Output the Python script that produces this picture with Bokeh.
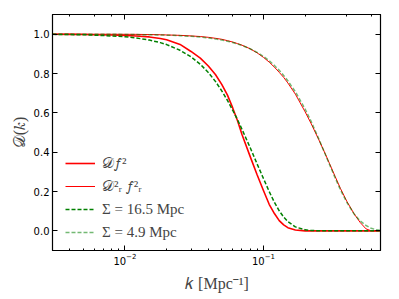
from bokeh.plotting import figure
from bokeh.models import (LogAxis, LinearAxis, FixedTicker, Legend, LegendItem,
                          PrintfTickFormatter, Range1d, CustomJSTickFormatter)
from bokeh.embed import file_html
from bokeh.resources import INLINE

# ---- data ----
k = [0.003, 0.004, 0.005, 0.006, 0.008, 0.01, 0.012, 0.015, 0.018, 0.02,
     0.025, 0.03, 0.035, 0.04, 0.045, 0.05, 0.055, 0.06, 0.065, 0.07,
     0.08, 0.09, 0.1, 0.11, 0.12, 0.13, 0.14, 0.15, 0.17, 0.2,
     0.22, 0.25, 0.28, 0.3, 0.33, 0.36, 0.4, 0.45, 0.5, 0.55,
     0.6, 0.65, 0.7]

D_f2 = [0.9995, 0.999, 0.998, 0.997, 0.996, 0.994, 0.991, 0.986, 0.978, 0.972,
        0.948, 0.912, 0.878, 0.838, 0.795, 0.745, 0.69, 0.625, 0.56, 0.49,
        0.38, 0.285, 0.205, 0.135, 0.088, 0.052, 0.03, 0.016, 0.004, 0.0,
        0.0, 0.0, 0.0, 0.0, 0.0, 0.0, 0.0, 0.0, 0.0, 0.0,
        0.0, 0.0, 0.0]

Dr2_fr2 = [1.0, 1.0, 1.0, 0.9998, 0.9996, 0.9993, 0.999, 0.998, 0.997, 0.996,
           0.994, 0.991, 0.988, 0.984, 0.979, 0.974, 0.967, 0.960, 0.952, 0.944,
           0.926, 0.905, 0.882, 0.858, 0.832, 0.806, 0.780, 0.752, 0.695, 0.605,
           0.548, 0.466, 0.39, 0.342, 0.275, 0.215, 0.15, 0.088, 0.042, 0.01,
           0.0, 0.0, 0.0]

Sigma_16_5 = [0.999, 0.998, 0.997, 0.995, 0.991, 0.987, 0.981, 0.970, 0.957, 0.947,
              0.918, 0.885, 0.847, 0.805, 0.760, 0.712, 0.663, 0.613, 0.565, 0.516,
              0.425, 0.340, 0.266, 0.200, 0.145, 0.102, 0.070, 0.047, 0.020, 0.005,
              0.002, 0.0, 0.0, 0.0, 0.0, 0.0, 0.0, 0.0, 0.0, 0.0,
              0.0, 0.0, 0.0]

Sigma_4_9 = [1.0, 1.0, 1.0, 0.9996, 0.9992, 0.9988, 0.998, 0.997, 0.996, 0.995,
             0.9925, 0.989, 0.985, 0.981, 0.976, 0.970, 0.964, 0.958, 0.950, 0.943,
             0.926, 0.907, 0.887, 0.865, 0.841, 0.816, 0.790, 0.763, 0.707, 0.619,
             0.559, 0.470, 0.388, 0.337, 0.268, 0.208, 0.145, 0.087, 0.050, 0.027,
             0.013, 0.006, 0.003]

labels = ["\U0001D49F\U0001D453\u00b2", "\U0001D49F\u00b2\u1d63 \U0001D453\u00b2\u1d63",
          "\u03a3 = 16.5 Mpc", "\u03a3 = 4.9 Mpc"]
y_ticks = [0.0, 0.2, 0.4, 0.6, 0.8, 1.0]

SERIF = "Liberation Serif"

p = figure(width=395, height=295, x_axis_type="log",
           x_range=Range1d(0.003, 0.7), y_range=Range1d(-0.1, 1.1),
           output_backend="svg", toolbar_location=None,
           min_border_left=52, min_border_right=15, min_border_top=14,
           min_border_bottom=45)
p.xgrid.visible = False
p.ygrid.visible = False
p.outline_line_color = "black"
p.outline_line_width = 1.2
p.background_fill_color = "white"
p.border_fill_color = "white"

r1 = p.line(k, D_f2, line_color="#ff0000", line_width=1.6)
r2 = p.line(k, Dr2_fr2, line_color="#ff0000", line_width=1.0)
r3 = p.line(k, Sigma_16_5, line_color="#008000", line_width=1.5, line_dash="4 2")
r4 = p.line(k, Sigma_4_9, line_color="#008000", line_alpha=0.55, line_width=1.5,
            line_dash="4 2")

def style(ax):
    ax.major_tick_in = 5
    ax.major_tick_out = 0
    ax.minor_tick_in = 2
    ax.minor_tick_out = 0
    ax.axis_line_color = "black"
    ax.major_tick_line_color = "black"
    ax.minor_tick_line_color = "black"
    ax.major_label_text_font = "DejaVu Sans"
    ax.major_label_text_font_size = "10px"
    ax.major_label_text_color = "black"
    ax.major_label_standoff = 4

xa = p.xaxis[0]
style(xa)
xa.major_label_standoff = 2
xa.axis_label = "\U0001D458 [Mpc\u207b\u00b9]"
xa.axis_label_text_font = SERIF
xa.axis_label_text_font_style = "normal"
xa.axis_label_text_font_size = "16px"
xa.axis_label_standoff = 7

ya = p.yaxis[0]
style(ya)
ya.major_label_standoff = 3
ya.ticker = FixedTicker(ticks=y_ticks, minor_ticks=[])
ya.formatter = PrintfTickFormatter(format="%.1f")
ya.axis_label = "\U0001D49F(\U0001D458)"
ya.axis_label_text_font = SERIF
ya.axis_label_text_font_style = "normal"
ya.axis_label_text_font_size = "16px"
ya.axis_label_standoff = 3

top = LogAxis(formatter=CustomJSTickFormatter(code="return ''"))
style(top)
top.major_label_standoff = 0
p.add_layout(top, "above")
right = LinearAxis(ticker=FixedTicker(ticks=y_ticks, minor_ticks=[]),
                   formatter=CustomJSTickFormatter(code="return ''"))
style(right)
right.major_label_standoff = 0
p.add_layout(right, "right")

legend = Legend(items=[LegendItem(label=labels[0], renderers=[r1]),
                       LegendItem(label=labels[1], renderers=[r2]),
                       LegendItem(label=labels[2], renderers=[r3]),
                       LegendItem(label=labels[3], renderers=[r4])],
                location=(13, 9), border_line_color=None,
                background_fill_alpha=0.0, padding=0, margin=0, spacing=5,
                glyph_width=30, glyph_height=18, label_height=18,
                label_standoff=7, label_text_font=SERIF,
                label_text_font_size="15px")
p.add_layout(legend, "center")

open("out.html", "w").write(file_html(p, INLINE))
